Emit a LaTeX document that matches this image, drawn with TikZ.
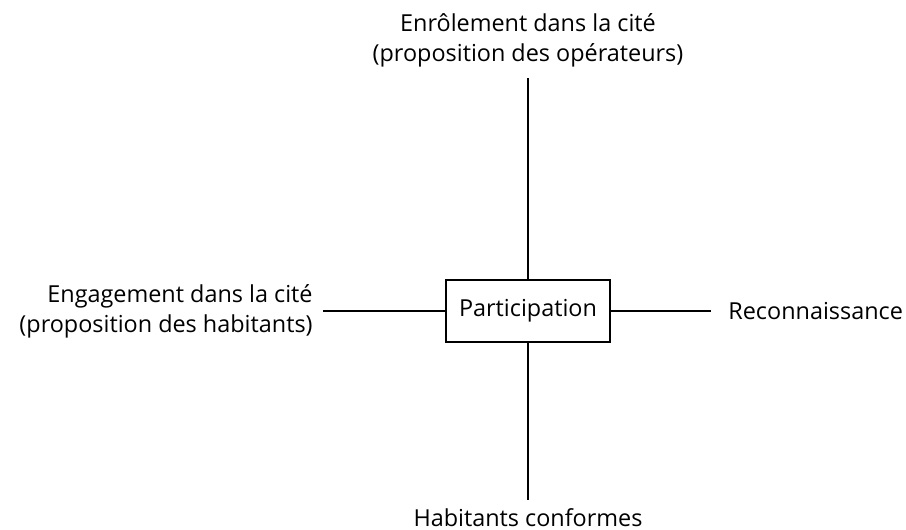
\documentclass[tikz,border=0pt]{standalone}
\usepackage{fontspec}
\setmainfont{Open Sans}
\usetikzlibrary{shapes}

\begin{document}
\begin{tikzpicture}[x=0.5pt,y=-0.5pt,every node/.style={font=\fontsize{11.7}{15}\selectfont}]
\useasboundingbox (0,0) rectangle (906,530);
\node[shape=rectangle,draw=black,align=center,line width=0.7pt,minimum width=82pt,minimum height=31pt] (0) at (528,311) {Participation};
\node[align=center,inner sep=5pt,anchor=south] (1) at (528,78) {Enrôlement dans la cité\\(proposition des opérateurs)};
\node[align=right,inner sep=5pt,anchor=east] (2) at (323,311) {Engagement dans la cité\\(proposition des habitants)};
\node[align=center,inner sep=8.5pt,anchor=west] (3) at (711,311) {Reconnaissance};
\node[align=center,inner sep=4pt,anchor=north] (4) at (528,500) {Habitants conformes};

\path [-,draw=black,line width=0.7pt] (1) edge node {} (0);
\path [-,draw=black,line width=0.7pt] (2) edge node {} (0);
\path [-,draw=black,line width=0.7pt] (0) edge node {} (3);
\path [-,draw=black,line width=0.7pt] (0) edge node {} (4);
\end{tikzpicture}
\end{document}
